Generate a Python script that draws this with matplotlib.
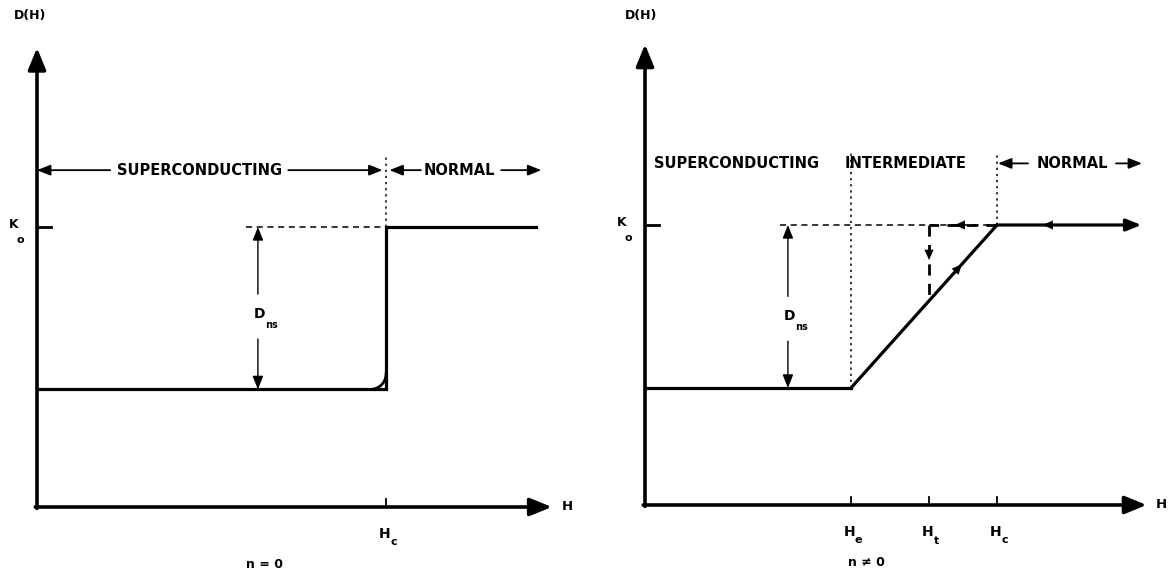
import numpy as np
import matplotlib
matplotlib.use("Agg")
import matplotlib.pyplot as plt

plt.rcParams['font.family'] = ['DejaVu Sans']
plt.rcParams['mathtext.fontset'] = 'dejavusans'

# ---------------- data ----------------
K0 = 1.0
# left panel (n = 0)
left_ticks = [1.0]
left_tick_subs = ['c']
left_curve_H = [0.0, 1.0, 1.0, 1.43]
left_curve_D = [0.42, 0.42, 1.0, 1.0]
left_Ds = 0.42
left_dns_x = 0.633
left_regions = ['SUPERCONDUCTING', 'NORMAL']
left_region_x = [0.467, 1.21]
# right panel (n != 0)
right_ticks = [0.585, 0.807, 1.0]
right_tick_subs = ['e', 't', 'c']
right_curve_H = [0.0, 0.585, 1.0, 1.41]
right_curve_D = [0.418, 0.418, 1.0, 1.0]
right_return_H = [1.0, 0.807, 0.807]
right_return_D = [1.0, 1.0, 0.729]
right_Ds = 0.418
right_dns_x = 0.406
right_regions = ['SUPERCONDUCTING', 'INTERMEDIATE', 'NORMAL']
right_region_x = [0.261, 0.741, 1.213]

W, H = 1169, 574
fig = plt.figure(figsize=(W / 100, H / 100), dpi=100)

axL = fig.add_axes([0, 0, 585 / W, 1])
axL.set_xlim(-37 / 349, 548 / 349)
axL.set_ylim(-67 / 280, 507 / 280)
axR = fig.add_axes([585 / W, 0, 584 / W, 1])
axR.set_xlim(-60 / 352, 524 / 352)
axR.set_ylim(-69 / 280, 505 / 280)
for ax in (axL, axR):
    ax.axis('off')

BOLD = dict(fontweight='bold', color='black')


def arrow(ax, x0, y0, x1, y1, lw=2.4, hl=0.9, hw=0.4, ms=12, ls='-'):
    ax.annotate('', xy=(x1, y1), xytext=(x0, y0),
                arrowprops=dict(arrowstyle=f'-|>,head_length={hl},head_width={hw}',
                                lw=lw, color='black', mutation_scale=ms,
                                shrinkA=0, shrinkB=0, linestyle=ls))


def head(ax, x, y, dx, dy, ms=8):
    # arrowhead only, pointing from (x-dx, y-dy) to (x, y)
    ax.annotate('', xy=(x, y), xytext=(x - dx, y - dy),
                arrowprops=dict(arrowstyle='-|>,head_length=0.9,head_width=0.4',
                                lw=0.1, color='black', mutation_scale=ms,
                                shrinkA=0, shrinkB=0))


def axes_frame(ax, xend, ytop, ylabel_xy, hlabel_x, k0_x):
    arrow(ax, 0, -0.005, 0, ytop, lw=2.6, hl=1.1, hw=0.45, ms=12)
    arrow(ax, -0.005, 0, xend, 0, lw=2.6, hl=1.1, hw=0.45, ms=12)
    ax.plot([0, 0.04], [K0, K0], color='black', lw=2)
    ax.text(ylabel_xy[0], ylabel_xy[1], 'D(H)', fontsize=9, ha='center', va='center', **BOLD)
    ax.text(hlabel_x, 0, 'H', fontsize=9.5, ha='left', va='center', **BOLD)
    ax.text(k0_x, K0 + 0.01, r'$\mathbf{K}$', fontsize=9, ha='center', va='center')
    ax.text(k0_x + 0.018, K0 - 0.045, r'$\mathbf{o}$', fontsize=8, ha='center', va='center')


def tick_labels(ax, ticks, subs):
    for t, s in zip(ticks, subs):
        ax.plot([t, t], [0, 0.03], color='black', lw=1.3)
        ax.text(t - 0.005, -0.095, r'$\mathbf{H}$', fontsize=10, ha='center', va='center')
        ax.text(t + 0.022, -0.125, r'$\mathbf{%s}$' % s, fontsize=8, ha='center', va='center')


def dns(ax, x, ds, ytext):
    ax.text(x + 0.005, ytext, r'$\mathbf{D}$', fontsize=10, ha='center', va='center')
    ax.text(x + 0.04, ytext - 0.04, r'$\mathbf{ns}$', fontsize=7, ha='center', va='center')
    arrow(ax, x, ytext + 0.07, x, K0, lw=1.0, hl=1.0, hw=0.4, ms=8)
    arrow(ax, x, ytext - 0.09, x, ds, lw=1.0, hl=1.0, hw=0.4, ms=8)


# ---------------- left panel ----------------
ax = axL
axes_frame(ax, 1.475, 1.64, (-0.02, 1.757), 1.505, -0.066)
tick_labels(ax, left_ticks, left_tick_subs)
ax.plot(left_curve_H, left_curve_D, color='black', lw=2.3, solid_joinstyle='miter')
# rounded corner at Hc
rx, ry = 0.045, 0.055
th = np.linspace(-np.pi / 2, 0, 30)
ax.plot(1 - rx + rx * np.cos(th), left_Ds + ry + ry * np.sin(th), color='black', lw=2.0)
ax.plot([left_dns_x - 0.035, 1.0], [K0, K0], color='black', lw=1.1, ls=(0, (4, 3)))
ax.plot([1.0, 1.0], [K0, 1.26], color='black', lw=1.1, ls=(0, (1.5, 2.5)))
dns(ax, left_dns_x, left_Ds, 0.69)
yr = 1.203
ax.text(left_region_x[0], yr, left_regions[0], fontsize=10.5, ha='center', va='center', **BOLD)
arrow(ax, 0.21, yr, 0.0, yr, lw=1.3, hl=1.0, hw=0.4, ms=8)
arrow(ax, 0.72, yr, 0.99, yr, lw=1.3, hl=1.0, hw=0.4, ms=8)
ax.text(left_region_x[1], yr, left_regions[1], fontsize=10.5, ha='center', va='center', **BOLD)
arrow(ax, 1.10, yr, 1.01, yr, lw=1.3, hl=1.0, hw=0.4, ms=8)
arrow(ax, 1.33, yr, 1.445, yr, lw=1.3, hl=1.0, hw=0.4, ms=8)
ax.text(0.653, -0.205, 'n = 0', fontsize=9, ha='center', va='center', **BOLD)

# ---------------- right panel ----------------
ax = axR
axes_frame(ax, 1.425, 1.645, (-0.011, 1.75), 1.45, -0.065)
tick_labels(ax, right_ticks, right_tick_subs)
ax.plot(right_curve_H[:2], right_curve_D[:2], color='black', lw=2.3)
ax.plot(right_curve_H[1:3], right_curve_D[1:3], color='black', lw=2.3)
arrow(ax, right_curve_H[2], right_curve_D[2], right_curve_H[3], right_curve_D[3],
      lw=2.3, hl=1.0, hw=0.4, ms=9)
head(ax, 1.13, K0, -0.03, 0)
# up arrow on slope
sx = right_curve_H[1] + 0.76 * (right_curve_H[2] - right_curve_H[1])
sy = right_curve_D[1] + 0.76 * (right_curve_D[2] - right_curve_D[1])
head(ax, sx, sy, 0.03, 0.042)
# dashed return path
ax.plot([right_dns_x - 0.022, right_return_H[0]], [K0, K0], color='black', lw=1.1, ls=(0, (4, 3)))
ax.plot(right_return_H[:2], right_return_D[:2], color='black', lw=2.0, ls=(0, (4, 3)))
ax.plot(right_return_H[1:], right_return_D[1:], color='black', lw=2.0, ls=(0, (4, 3)))
head(ax, 0.88, K0, -0.03, 0)
head(ax, right_return_H[1], 0.875, 0, -0.04)
# dotted region boundaries
ax.plot([right_ticks[0]] * 2, [right_Ds + 0.02, 1.26], color='black', lw=1.1, ls=(0, (1.5, 2.5)))
ax.plot([right_ticks[2]] * 2, [K0, 1.26], color='black', lw=1.1, ls=(0, (1.5, 2.5)))
dns(ax, right_dns_x, right_Ds, 0.675)
yr = 1.22
for name, x in zip(right_regions, right_region_x):
    ax.text(x, yr, name, fontsize=10.5, ha='center', va='center', **BOLD)
arrow(ax, 1.088, yr, 1.003, yr, lw=1.3, hl=1.0, hw=0.4, ms=8)
arrow(ax, 1.338, yr, 1.412, yr, lw=1.3, hl=1.0, hw=0.4, ms=8)
ax.text(0.628, -0.207, 'n ≠ 0', fontsize=9, ha='center', va='center', **BOLD)

fig.savefig('out.png', dpi=100)
